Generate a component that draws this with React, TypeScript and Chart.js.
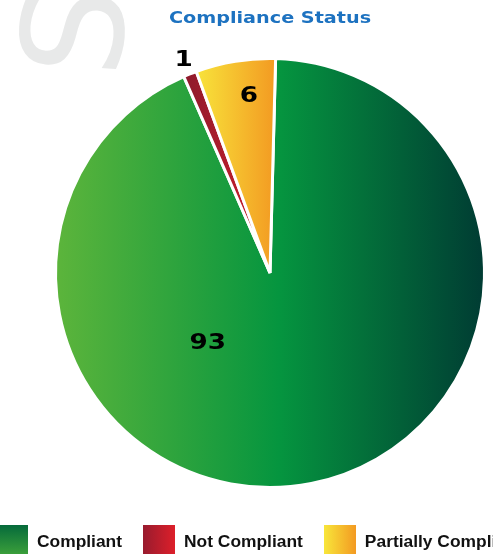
import React, { useEffect, useRef } from "react";
import { Chart, PieController, ArcElement } from "chart.js";

Chart.register(PieController, ArcElement);

// ---- data ----
const categories = ["Compliant", "Not Compliant", "Partially Compliant"];
const counts = [93, 1, 6];
const chartTitle = "Compliance Status";
const watermarkText = "S";

// ---- styling ----
const sliceStops: [number, string][][] = [
  [[0, "#5db53b"], [0.52, "#05953f"], [1, "#003b33"]],
  [[0, "#8c1a2c"], [1, "#d41f2b"]],
  [[0, "#f8e43b"], [1, "#f39a22"]],
];
const legendSwatches = [
  "linear-gradient(to bottom, #056a3b, #40a43a)",
  "linear-gradient(to right, #981b2e, #dd1f2a)",
  "linear-gradient(to right, #f8e63a, #f39a22)",
];
// where each value label sits: fraction along the slice's sweep, fraction of the radius
const labelPlacement = [
  { along: 0.66, out: 0.43 },
  { along: 0.5, out: 1.08 },
  { along: 0.62, out: 0.84 },
];

const BORDER = 3;
const ROTATION = 1.5;
const CANVAS_W = 540;
const CANVAS_H = 554;

function pieGeometry(chart: any) {
  const a = chart.chartArea;
  if (!a) return null;
  const cx = (a.left + a.right) / 2;
  const cy = (a.top + a.bottom) / 2;
  const r = Math.max((Math.min(a.right - a.left, a.bottom - a.top) - BORDER) / 2, 0);
  return { cx, cy, r };
}

function sliceAngles(index: number): [number, number] {
  const total = counts.reduce((s, v) => s + v, 0);
  let start = (ROTATION * Math.PI) / 180 - Math.PI / 2;
  for (let i = 0; i < index; i++) start += (counts[i] / total) * Math.PI * 2;
  return [start, start + (counts[index] / total) * Math.PI * 2];
}

function sliceFill(ctx: any) {
  const i = ctx.dataIndex;
  if (i === undefined || i === null) return "#888";
  const stops = sliceStops[i];
  const g = pieGeometry(ctx.chart);
  const c2d = ctx.chart.ctx;
  if (!g || !c2d) return stops[0][1];
  const [a0, a1] = sliceAngles(i);
  let minX = g.cx;
  let maxX = g.cx;
  for (let k = 0; k <= 96; k++) {
    const a = a0 + ((a1 - a0) * k) / 96;
    const x = g.cx + (g.r + BORDER / 2) * Math.cos(a);
    minX = Math.min(minX, x);
    maxX = Math.max(maxX, x);
  }
  const grad = c2d.createLinearGradient(minX, 0, maxX, 0);
  stops.forEach(([o, c]) => grad.addColorStop(o, c));
  return grad;
}

// wide, heavy display text: a bold face stretched horizontally
function drawWide(
  c: CanvasRenderingContext2D,
  text: string,
  x: number,
  yCenter: number,
  size: number,
  scaleX: number,
  color: string
) {
  c.save();
  c.translate(x, yCenter);
  c.scale(scaleX, 1);
  c.font = `bold ${size}px "DejaVu Sans"`;
  c.fillStyle = color;
  c.textAlign = "center";
  c.textBaseline = "alphabetic";
  c.fillText(text, 0, (size * 0.729) / 2);
  c.restore();
}

const decorPlugin = {
  id: "decor",
  beforeDraw(chart: any) {
    const c: CanvasRenderingContext2D = chart.ctx;
    // faint watermark letter in the corner
    c.save();
    c.translate(72, 31);
    c.rotate((-86 * Math.PI) / 180);
    c.font = `140px "DejaVu Sans"`;
    c.fillStyle = "#e8e9e9";
    c.textAlign = "center";
    c.textBaseline = "alphabetic";
    c.fillText(watermarkText, 0, (140 * 0.729) / 2);
    c.restore();
    // title
    drawWide(c, chartTitle, chart.width / 2, 17, 16, 1.2, "#1d72c0");
  },
  afterDatasetsDraw(chart: any) {
    const c: CanvasRenderingContext2D = chart.ctx;
    const meta = chart.getDatasetMeta(0);
    meta.data.forEach((arc: any, i: number) => {
      const p = arc.getProps(["x", "y", "startAngle", "endAngle", "outerRadius"], true);
      const place = labelPlacement[i];
      const a = p.startAngle + (p.endAngle - p.startAngle) * place.along;
      const rr = p.outerRadius * place.out;
      const lx = p.x + Math.cos(a) * rr;
      const ly = p.y + Math.sin(a) * rr;
      drawWide(c, String(counts[i]), lx, ly, 21, 1.25, "#000000");
    });
  },
};

export default function App() {
  const canvasRef = useRef<HTMLCanvasElement | null>(null);

  useEffect(() => {
    const canvas = canvasRef.current;
    if (!canvas) return;
    const chart = new Chart(canvas, {
      type: "pie",
      data: {
        labels: categories,
        datasets: [
          {
            data: counts,
            backgroundColor: sliceFill as any,
            borderColor: "#ffffff",
            borderWidth: BORDER,
          },
        ],
      },
      options: {
        responsive: false,
        animation: false,
        devicePixelRatio: 1,
        rotation: ROTATION,
        layout: { padding: { top: 57, bottom: 65, left: 0, right: 0 } },
        events: [],
      },
      plugins: [decorPlugin],
    });
    return () => chart.destroy();
  }, []);

  return (
    <div
      style={{
        position: "fixed",
        left: 0,
        top: 0,
        width: 493,
        height: 554,
        overflow: "hidden",
        background: "#ffffff",
      }}
    >
      <canvas
        ref={canvasRef}
        width={CANVAS_W}
        height={CANVAS_H}
        style={{ display: "block", width: CANVAS_W, height: CANVAS_H }}
      />
      <div
        style={{
          position: "absolute",
          left: -4,
          top: 525,
          display: "flex",
          alignItems: "center",
          whiteSpace: "nowrap",
          fontFamily: '"Liberation Sans", Arial, sans-serif',
          fontWeight: "bold",
          fontSize: 17.4,
          color: "#111111",
        }}
      >
        {categories.map((name, i) => (
          <div
            key={name}
            style={{ display: "flex", alignItems: "center", marginRight: 21 }}
          >
            <span
              style={{
                display: "inline-block",
                width: 32,
                height: 32,
                background: legendSwatches[i],
                marginRight: 9,
              }}
            />
            <span>{name}</span>
          </div>
        ))}
      </div>
    </div>
  );
}
